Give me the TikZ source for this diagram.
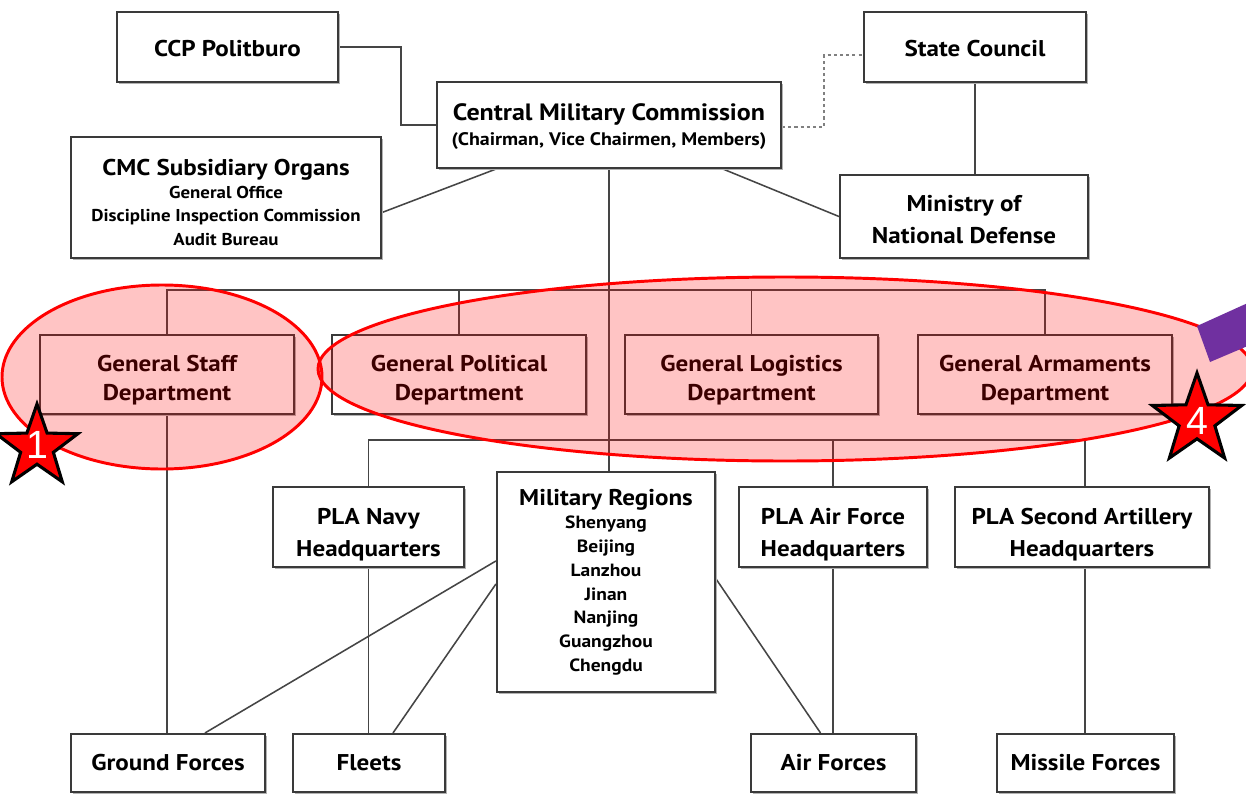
\documentclass[tikz,border=0pt]{standalone}
\usepackage{fontspec}
\setmainfont[FakeStretch=1.1]{PT Sans}
\newfontfamily\numfont{Liberation Sans}
\usetikzlibrary{shapes.geometric,calc,shadows}
\definecolor{boxline}{HTML}{3A3A3A}
\definecolor{connc}{HTML}{454545}
\definecolor{purp}{HTML}{7030A0}
\newcommand\smalltxt{\fontsize{12.2}{16.6}\selectfont}
\newcommand\listtxt{\fontsize{12.6}{16.9}\selectfont}
\newcommand\subtxt{\fontsize{12.9}{17.8}\selectfont}
\newcommand\pushdown[2]{\raisebox{0pt}[\dimexpr\height+#1\relax]{#2}}
\pgfdeclarelayer{bglayer}
\pgfsetlayers{bglayer,main}
\begin{document}
\begin{tikzpicture}[x=0.025cm,y=-0.025cm,
  box/.style={draw=boxline, line width=1.5pt, fill=white, inner sep=0pt, align=center,
    font=\bfseries\fontsize{16.2}{20.6}\selectfont,
    drop shadow={shadow xshift=1.4pt, shadow yshift=-1.4pt, fill=black!30, opacity=1}},
  sz/.style 2 args={minimum width=#1*0.025cm, minimum height=#2*0.025cm},
  wide/.style={font=\bfseries\fontsize{16.2}{22.8}\selectfont},
  tight/.style={font=\bfseries\fontsize{16.2}{#1}\selectfont},
  conn/.style={draw=connc, line width=1.1pt},
  dashconn/.style={draw=black!50, line width=1.1pt, dash pattern=on 2.2pt off 2.2pt},
  hl/.style={draw=red, line width=2.1pt, fill=red, fill opacity=0.23},
  starbox/.style={star, star points=5, star point ratio=2.5, fill=red, draw=black, line width=2.2pt, inner sep=0pt},
  numtxt/.style={text=white, font=\numfont\fontsize{28}{28}\selectfont, inner sep=0pt}
]
\useasboundingbox (0,0) rectangle (1246,794);

% bus coordinates
\coordinate (busT) at (0,290);
\coordinate (busB) at (0,440);

% nodes
\node[box, sz={221}{70}] (pol) at (227.5,47) {\pushdown{2.8pt}{CCP Politburo}};
\node[box, sz={222}{70}] (sc) at (975,47) {\pushdown{2.8pt}{State Council}};
\node[box, tight=17.8pt, sz={344}{86}] (cmc) at (609,125) {\pushdown{2.8pt}{\fontsize{16.8}{17.8}\selectfont Central Military Commission}\\{\subtxt (Chairman, Vice Chairmen, Members)}};
\node[box, tight=16.4pt, sz={310}{121}] (sub) at (226,197.5) {\pushdown{7pt}{CMC Subsidiary Organs}\\{\smalltxt General Office}\\{\smalltxt Discipline Inspection Commission}\\{\smalltxt Audit Bureau}};
\node[box, wide, sz={248}{83}] (mnd) at (964,216.5) {\pushdown{4.3pt}{Ministry of}\\National Defense};
\node[box, sz={254}{79}] (gsd) at (167,374.5) {\pushdown{8.5pt}{General Staff}\\Department};
\node[box, sz={254}{79}] (gpd) at (459,374.5) {\pushdown{8.5pt}{General Political}\\Department};
\node[box, sz={253}{79}] (gld) at (751.5,374.5) {\pushdown{8.5pt}{General Logistics}\\Department};
\node[box, sz={254}{79}] (gad) at (1045,374.5) {\pushdown{8.5pt}{General Armaments}\\Department};
\node[box, wide, sz={191}{80}] (navy) at (368.5,527) {\pushdown{11.4pt}{PLA Navy}\\Headquarters};
\node[box, tight=16.9pt, sz={218}{220}] (mr) at (606,582) {Military Regions\\{\listtxt Shenyang}\\{\listtxt Beijing}\\{\listtxt Lanzhou}\\{\listtxt Jinan}\\{\listtxt Nanjing}\\{\listtxt Guangzhou}\\{\listtxt Chengdu}};
\node[box, wide, sz={188}{80}] (af) at (833,527) {\pushdown{11.4pt}{PLA Air Force}\\Headquarters};
\node[box, wide, sz={254}{80}] (sa) at (1082,527) {\pushdown{11.4pt}{PLA Second Artillery}\\Headquarters};
\node[box, sz={194}{58}] (gf) at (168,763) {Ground Forces};
\node[box, sz={152}{58}] (fl) at (369,763) {Fleets};
\node[box, sz={165}{58}] (afs) at (833.5,763) {Air Forces};
\node[box, sz={177}{58}] (mf) at (1085.5,763) {Missile Forces};

% connectors behind boxes
\begin{pgfonlayer}{bglayer}
\fill[white] (0,0) rectangle (1246,794);
\draw[conn] (pol.east) -- ++(62,0) |- (cmc.west);
\draw[dashconn] ($(cmc.east)+(0,2)$) -- ++(42,0) |- ($(sc.west)+(0,8)$);
\draw[conn] ($(cmc.south west)+(60,0)$) -- ($(sub.east)+(0,15)$);
\draw[conn] ($(cmc.south east)+(-59,0)$) -- (mnd.west);
\draw[conn] (sc.south) -- (sc.south |- mnd.north);
\draw[conn] (cmc.south) -- (cmc.south |- mr.north);
\draw[conn] (gsd.north) -- (gsd.north |- busT) -- (gad.north |- busT) -- (gad.north);
\draw[conn] (gpd.north) -- (gpd.north |- busT);
\draw[conn] (gld.north) -- (gld.north |- busT);
\draw[conn] (navy.north) -- (navy.north |- busB) -- ($(sa.north |- busB)+(3,0)$) -- ($(sa.north)+(3,0)$);
\draw[conn] (af.north) -- (af.north |- busB);
\draw[conn] (gsd.south) -- (gsd.south |- gf.north);
\draw[conn] (navy.south) -- (navy.south |- fl.north);
\draw[conn] (af.south) -- (af.south |- afs.north);
\draw[conn] ($(sa.south)+(3,0)$) -- ($(sa.south |- mf.north)+(3,0)$);
\draw[conn] ($(mr.north west)+(0,90)$) -- ($(gf.north)+(37,0)$);
\draw[conn] ($(mr.north west)+(0,113)$) -- ($(fl.north)+(24,0)$);
\draw[conn] ($(mr.north east)+(0,108)$) -- ($(afs.north)+(-13,0)$);
\end{pgfonlayer}

% highlights
\draw[hl] (162,377) ellipse [x radius=160, y radius=92];
\draw[hl] (785,369) ellipse [x radius=467, y radius=92];
\fill[purp] (1197,326) -- (1250,302) -- (1250,345) -- (1210,362) -- cycle;

% stars
\node[starbox, minimum size=86*0.025cm] (s1) at (37,447) {};
\node[numtxt] (n1) at (37,445) {1};
\node[starbox, minimum size=94*0.025cm] (s4) at (1197,420) {};
\node[numtxt] (n4) at (1197,421) {4};
\end{tikzpicture}
\end{document}
